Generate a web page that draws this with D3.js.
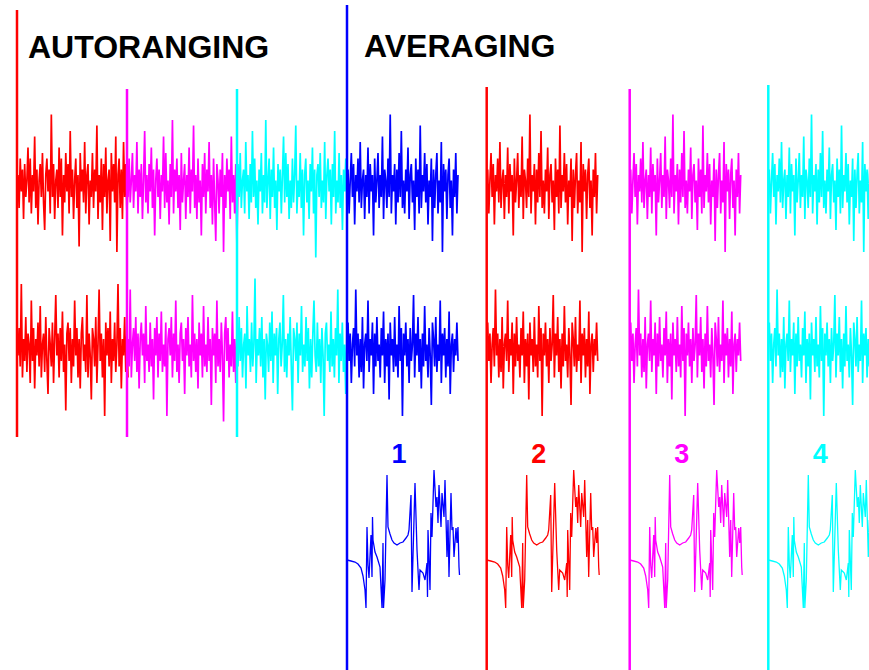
<!DOCTYPE html>
<html>
<head>
<meta charset="utf-8">
<script src="https://cdn.jsdelivr.net/npm/d3@7"></script>
<style>
  body { margin: 0; background: #fff; }
  text { font-family: "Liberation Sans", Arial, sans-serif; font-weight: bold; }
</style>
</head>
<body>
<div id="viz"></div>
<script>
var width = 869, height = 670;

// segment colours, in order of the autoranging sweep
var segColors = ["#ff0000", "#ff00ff", "#00ffff", "#0000ff"];
// start times (segment units) for the two acquisition modes
var autoStarts = [0, 1, 2, 3];
var avgStarts = [3, 4.27, 5.57, 6.83];
var avgColors = ["#0000ff", "#ff0000", "#ff00ff", "#00ffff"];
var avgLabels = ["1", "2", "3", "4"];

// noise traces (arbitrary units)
var topRed = [2,-4,5,-1,3,-6,4,-2,1,7,-3,5,-5,2,-1,9,-4,3,-7,1,4,-2,6,-3,-8,2,5,-1,3,-5,13,-2,4,-6,1,3,-4,7,-2,5,-9,2,-3,6,-1,4,-5,10,-2,3,-6,1,5,-4,2,-11,6,-1,3,-3,8,-5,2,4,-7,1,-2,6,-4,3,-1,11,-6,2,-3,5,-8,4,-2,7,-5,1,3,-10,6,-1,4,-3,9,-12,2,5,-4,3,-6,8,-2,4,-5,1];
var topMagenta = [-2,5,-3,1,6,-4,2,-1,8,-5,3,-2,4,-6,1,10,-3,2,-5,4,-1,7,-4,3,-9,1,5,-2,3,-6,2,-1,9,-4,6,-3,1,-7,4,-2,12,-5,3,-1,5,-4,2,-8,6,-3,1,4,-6,2,-2,7,-5,3,-1,11,-4,2,-6,5,-3,1,-9,4,-2,6,-5,3,-1,8,-4,2,-7,5,-3,-10,4,1,-5,3,-2,6,-12,2,-4,5,-1,3,-6,9,-3,2,-5,4,-11,1];
var topCyan = [4,-2,6,-4,1,3,-5,8,-1,2,-6,4,-3,10,-2,5,-4,1,-7,3,-1,6,-5,2,-3,12,-4,1,5,-6,3,-2,7,-4,1,-8,4,-1,3,-5,2,9,-3,6,-2,4,-6,1,-4,5,-3,2,11,-5,1,-2,6,-4,3,-9,2,5,-3,1,-6,4,-1,7,-5,3,-13,2,4,-2,6,-4,1,-3,8,-6,2,5,-1,3,-7,4,-2,10,-5,1,-3,6,-4,2,-8,3,-1,5,-4,2];
var topBlue = [3,-5,1,6,-2,4,-7,2,-1,5,-3,8,-4,1,3,-6,2,-2,7,-5,4,-1,2,-9,5,-3,1,6,-4,2,-2,9,-6,3,1,-4,5,-2,13,-5,2,-1,4,-7,3,-3,6,-2,10,-4,1,-5,3,-1,7,-6,2,4,-3,1,-8,5,-2,3,-5,11,-4,2,-1,6,-3,4,-7,1,-2,5,-10,3,-4,2,6,-5,1,-3,8,-12,4,-1,3,-6,2,5,-4,1,-9,3,-2,6,-5,2];

var botRed = [-1,4,-3,12,-5,2,-2,6,-4,3,1,-6,9,-2,4,-7,2,-1,5,-3,8,-5,1,3,-4,6,-2,-8,4,1,-3,5,-6,2,10,-1,3,-5,4,-2,7,-4,1,-11,3,5,-2,4,-6,2,-3,9,-1,4,-5,2,-7,3,6,-2,1,-4,10,-5,3,-1,-9,4,2,-3,6,-6,1,11,-2,3,-5,2,-12,5,-1,4,-3,7,-6,2,-2,5,-4,1,12,-3,4,-7,2,-1,6,-4,3,-5];
var botMagenta = [2,-3,11,-5,1,4,-2,6,-4,3,-7,2,5,-1,3,-6,8,-2,1,-4,5,-3,2,-9,4,-1,6,-5,3,-2,7,-4,1,-3,5,-12,2,4,-1,6,-5,3,-2,9,-4,1,-6,3,5,-2,2,-8,4,-1,6,-3,1,-5,10,-2,3,-4,2,-7,5,-1,3,-5,8,-3,1,-4,6,-2,2,-10,4,-1,3,-6,9,-3,2,-4,5,-1,-13,3,6,-2,4,-5,1,-3,7,-4,2,-6,3,1];
var botCyan = [-3,6,-2,4,-5,1,3,-7,8,-1,2,-4,5,-3,1,13,-6,2,-1,4,-3,6,-5,2,-9,3,1,-4,5,-2,7,-6,3,-1,4,-8,2,5,-3,1,10,-4,2,-5,3,-1,6,-3,-11,4,2,-2,5,-6,3,-1,8,-4,1,-3,6,-2,4,-7,2,-5,3,9,-1,-4,5,-3,2,-6,4,-1,-12,3,5,-2,1,-4,7,-3,2,-5,4,-1,11,-6,3,-2,5,-4,1,-8,3,-2];
var botBlue = [5,-2,3,-6,1,4,-3,11,-1,3,-5,2,-4,6,-7,1,3,-2,9,-4,2,-1,5,-8,3,-3,6,-2,1,-5,4,-1,7,-6,2,-3,3,-9,5,-1,2,-4,6,-3,1,-5,8,-2,4,-12,3,-1,5,-3,2,-6,4,-2,1,10,-5,3,-1,6,-4,2,-7,3,-3,8,-2,1,-5,4,-1,-10,5,2,-3,6,-4,1,-2,9,-6,3,-1,4,-5,2,-3,7,-8,1,3,-4,2,-1,5,-2];

// averaged spectrum (frequency bin, amplitude)
var specF = [0,4,8,11,14,16,18,19,20,21,22,24,25,25.5,26,28,30,33,35,36,36.5,38,40,41,43,45,47,50,53,56,59,61,62,64,65,68,70,72,73,76,78,80,80.5,81,83,84,85,87,89,90,91,92,94,95,97,98,100,101,102,104,105,106,107,109,110,111,112,112.5];
var specA = [0,-1,-2,-4,-8,-16,-30,-48,33,-5,-18,25,-17,43,20,8,3,-7,-48,17,-48,-20,85,33,26,20,17,15,17,18,22,25,30,65,-32,77,10,-30,-10,-13,-20,-3,-37,30,-30,47,23,90,53,63,37,75,33,67,43,80,3,40,-17,67,30,33,3,32,17,33,-7,-15];

var topRows = [topRed, topMagenta, topCyan, topBlue];
var botRows = [botRed, botMagenta, botCyan, botBlue];

var svg = d3.select("#viz").append("svg").attr("width", width).attr("height", height);

var x = d3.scaleLinear().domain([0, 1]).range([17, 127]);
var segW = x(1) - x(0);
var yTop = d3.scaleLinear().domain([-14, 14]).range([263, 109]);
var yBot = d3.scaleLinear().domain([-14, 14]).range([427, 273]);
var fx = d3.scaleLinear().domain([0, 112]).range([0, 112]);
var ySpec = d3.scaleLinear().domain([-50, 90]).range([610, 470]);

function noisePath(vals, t0, y) {
  var xi = d3.scaleLinear().domain([0, vals.length - 1]).range([x(t0) + 1, x(t0) + segW + 1]);
  return d3.line().x(function(d, i) { return xi(i); }).y(function(d) { return y(d); })(vals);
}

// autoranging sweep
autoStarts.forEach(function(t, i) {
  [[topRows[i], yTop], [botRows[i], yBot]].forEach(function(r) {
    svg.append("path")
        .attr("d", noisePath(r[0], t, r[1]))
        .attr("fill", "none")
        .attr("stroke", segColors[i])
        .attr("stroke-width", 1.7);
  });
});

// averaging: same record repeated for each pass
avgStarts.forEach(function(t, i) {
  if (i > 0) {
    svg.append("path").attr("d", noisePath(topBlue, t, yTop))
        .attr("fill", "none").attr("stroke", avgColors[i]).attr("stroke-width", 1.7);
    svg.append("path").attr("d", noisePath(botBlue, t, yBot))
        .attr("fill", "none").attr("stroke", avgColors[i]).attr("stroke-width", 1.7);
  }
  var line = d3.line()
      .x(function(d, j) { return x(t) + fx(specF[j]); })
      .y(function(d) { return ySpec(d); });
  svg.append("path").attr("d", line(specA))
      .attr("fill", "none").attr("stroke", avgColors[i]).attr("stroke-width", 1.3);
  svg.append("text")
      .attr("x", x(t) + 52)
      .attr("y", 463)
      .attr("text-anchor", "middle")
      .attr("font-size", 27)
      .attr("fill", avgColors[i])
      .text(avgLabels[i]);
});

// segment markers
var autoTops = [10, 89, 89];
autoStarts.slice(0, 3).forEach(function(t, i) {
  svg.append("line")
      .attr("x1", x(t)).attr("x2", x(t))
      .attr("y1", autoTops[i]).attr("y2", 437)
      .attr("stroke", segColors[i]).attr("stroke-width", 2.5);
});
var avgTops = [5, 87, 89, 85];
avgStarts.forEach(function(t, i) {
  svg.append("line")
      .attr("x1", x(t)).attr("x2", x(t))
      .attr("y1", avgTops[i]).attr("y2", height)
      .attr("stroke", avgColors[i]).attr("stroke-width", 2.5);
});

svg.append("text").attr("x", 28).attr("y", 58).attr("font-size", 32).text("AUTORANGING");
svg.append("text").attr("x", 364).attr("y", 57).attr("font-size", 32).text("AVERAGING");
</script>
</body>
</html>
